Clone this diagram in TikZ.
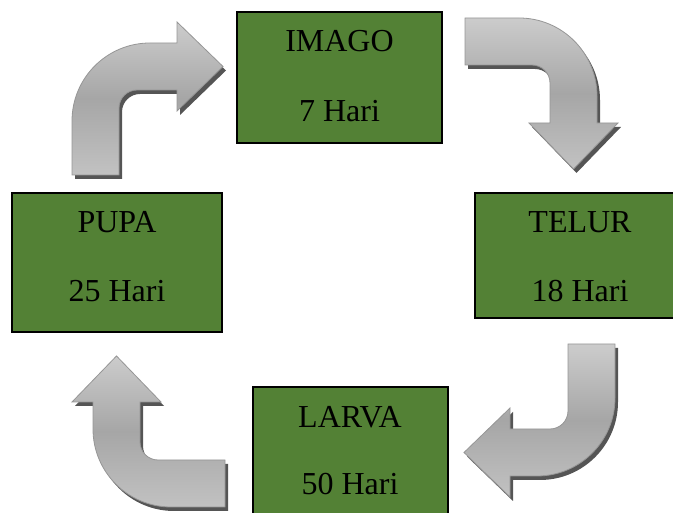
\documentclass[tikz,border=0pt]{standalone}
\usepackage{fontspec}
\setmainfont{Liberation Serif}
\definecolor{stagegreen}{RGB}{83,129,53}
\definecolor{arrowline}{RGB}{150,150,150}
\definecolor{arrowshadow}{RGB}{85,85,85}
\definecolor{arrowlight}{RGB}{204,204,204}
\definecolor{arrowdark}{RGB}{166,166,166}
\tikzset{
  stagebox/.style={draw=black, line width=1.3pt, fill=stagegreen, rectangle, inner sep=0pt},
  stagetext/.style={font=\fontsize{32}{36}\selectfont, anchor=base, inner sep=0pt},
  bentfill/.style={draw=arrowline, line width=0.8pt, top color=arrowlight, bottom color=arrowlight!95!black, middle color=arrowdark},
  bentshadow/.style={fill=arrowshadow, draw=none},
}
\newcommand{\bentshape}{(0,-132) -- (0,-78) arc[start angle=180, end angle=90, radius=78] -- (105,0) -- (105,21) -- (151,-23.5) -- (105,-68) -- (105,-47) -- (65,-47) arc[start angle=90, end angle=180, radius=18] -- (47,-132) -- cycle}
\begin{document}
\begin{tikzpicture}[x=1pt, y=1pt]
\useasboundingbox (0,0) rectangle (673,513);
\clip (0,0) rectangle (673,513);

% stage boxes
\node[stagebox, minimum width=205pt, minimum height=131pt] (imago) at (339.5,435.5) {};
\node[stagebox, minimum width=210pt, minimum height=139pt] (pupa) at (117,250.5) {};
\node[stagebox, minimum width=211pt, minimum height=125pt] (telur) at (580.5,257.5) {};
\node[stagebox, minimum width=195pt, minimum height=160pt] (larva) at (350.5,46) {};

% texts
\node[stagetext] (imagoA) at (339.5,461) {IMAGO};
\node[stagetext] (imagoB) at (339.5,391) {7 Hari};
\node[stagetext] (pupaA) at (117,280) {PUPA};
\node[stagetext] (pupaB) at (117,211) {25 Hari};
\node[stagetext] (telurA) at (580,280) {TELUR};
\node[stagetext] (telurB) at (580,211) {18 Hari};
\node[stagetext] (larvaA) at (350,85) {LARVA};
\node[stagetext] (larvaB) at (350,18) {50 Hari};

% bent arrows: shadows
\begin{scope}[shift={(75,466)}]
  \path[bentshadow] \bentshape;
\end{scope}
\begin{scope}[shift={(600,491)}, rotate=-90]
  \path[bentshadow] \bentshape;
\end{scope}
\begin{scope}[shift={(618,33)}, rotate=180]
  \path[bentshadow] \bentshape;
\end{scope}
\begin{scope}[shift={(96,2)}, rotate=90]
  \path[bentshadow] \bentshape;
\end{scope}

% bent arrows
\begin{scope}[shift={(72,470)}]
  \path[bentfill] \bentshape;
\end{scope}
\begin{scope}[shift={(597,495)}, rotate=-90]
  \path[bentfill] \bentshape;
\end{scope}
\begin{scope}[shift={(615,37)}, rotate=180]
  \path[bentfill] \bentshape;
\end{scope}
\begin{scope}[shift={(93,6)}, rotate=90]
  \path[bentfill] \bentshape;
\end{scope}
\end{tikzpicture}
\end{document}
